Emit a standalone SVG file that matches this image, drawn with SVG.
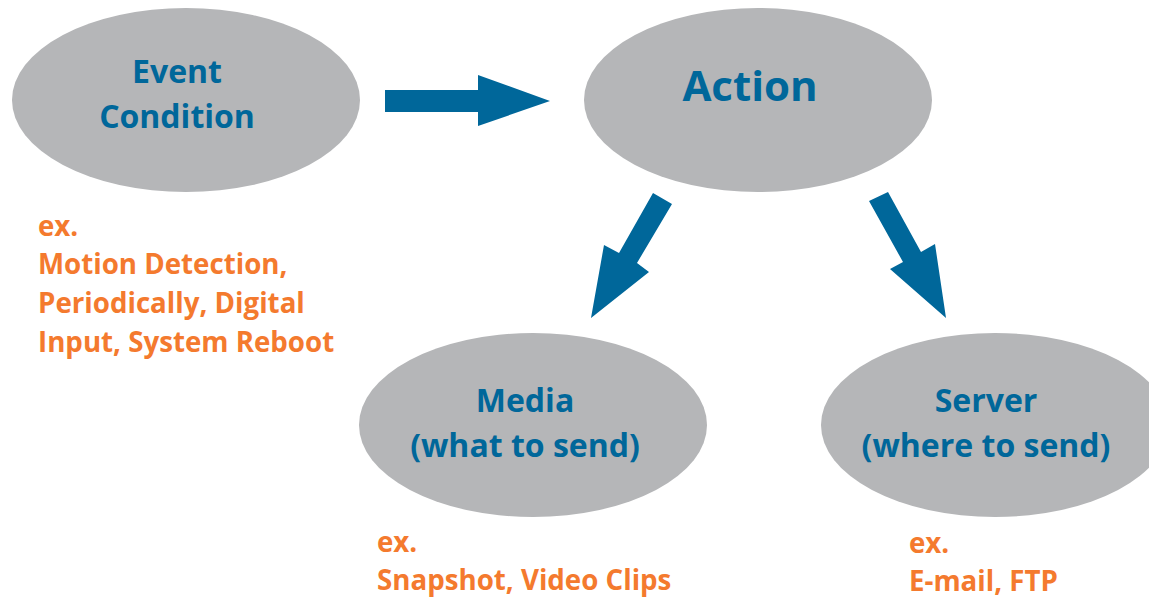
<svg xmlns="http://www.w3.org/2000/svg" width="1149" height="599" viewBox="0 0 1149 599">
<style>
.node{fill:#b5b6b8}
.lbl{font-family:"Open Sans","Noto Sans",sans-serif;font-weight:700;fill:#00679a;text-anchor:middle;font-size:32px}
.big{font-size:42px}
.ex{font-family:"Open Sans","Noto Sans",sans-serif;font-weight:700;fill:#f47a2e;font-size:27.7px}
.arrow{fill:#00679a}
</style>
<rect width="1149" height="599" fill="#ffffff"/>
<g id="event">
<ellipse class="node" cx="186" cy="100" rx="174" ry="92"/>
<text class="lbl" x="177" y="83">Event</text>
<text class="lbl" x="177" y="128">Condition</text>
</g>
<g id="action">
<ellipse class="node" cx="758" cy="100" rx="174" ry="92"/>
<text class="lbl big" x="750" y="101">Action</text>
</g>
<g id="media">
<ellipse class="node" cx="533" cy="425" rx="174" ry="92"/>
<text class="lbl" x="525" y="412">Media</text>
<text class="lbl" x="525" y="457">(what to send)</text>
</g>
<g id="server">
<ellipse class="node" cx="995" cy="425" rx="174" ry="92"/>
<text class="lbl" x="986" y="412">Server</text>
<text class="lbl" x="986" y="457">(where to send)</text>
</g>
<g id="event-examples">
<text class="ex" x="38" y="236">ex.</text>
<text class="ex" x="38" y="274">Motion Detection,</text>
<text class="ex" x="38" y="313">Periodically, Digital</text>
<text class="ex" x="38" y="352">Input, System Reboot</text>
</g>
<g id="media-examples">
<text class="ex" x="377" y="552">ex.</text>
<text class="ex" x="377" y="590">Snapshot, Video Clips</text>
</g>
<g id="server-examples">
<text class="ex" x="909" y="553">ex.</text>
<text class="ex" x="909" y="591">E-mail, FTP</text>
</g>
<g id="connectors">
<polygon class="arrow" points="385,90 478,90 478,75 550,101 478,126 478,112 385,112"/>
<polygon class="arrow" points="653,193 672,204 637,263 649,272 591,318 604,245 619,253"/>
<polygon class="arrow" points="869,201 888,192 921,252 935,244 946,318 890,269 903,262"/>
</g>
</svg>
